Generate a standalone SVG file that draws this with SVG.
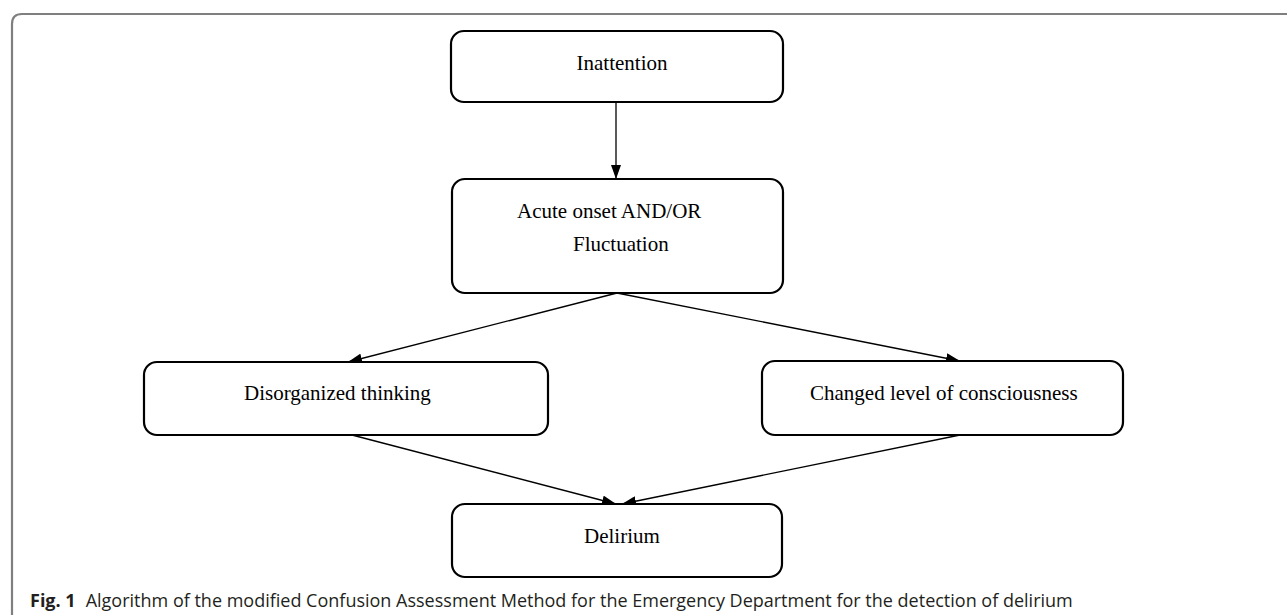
<svg xmlns="http://www.w3.org/2000/svg" width="1287" height="615" viewBox="0 0 1287 615">
<defs>
<marker id="ah" viewBox="0 0 14 10" refX="14" refY="5" markerWidth="14" markerHeight="10" markerUnits="userSpaceOnUse" orient="auto">
<path d="M0,0 L14,5 L0,10 Z" fill="#000"/>
</marker>
<style>
.box{fill:#fff;stroke:#000;stroke-width:2.2}
.lbl{font-family:"Liberation Serif","Times New Roman",serif;font-size:21px;fill:#000}
.con{stroke:#000;stroke-width:1.3;fill:none;marker-end:url(#ah)}
.cap{font-family:"Open Sans","Noto Sans",sans-serif;font-size:18px;fill:#231f20}
</style>
</defs>
<rect width="1287" height="615" fill="#fff"/>
<path d="M12,615 V24 Q12,14 22,14 H1287" fill="none" stroke="#7f7f7f" stroke-width="2.2"/>
<g id="connectors">
<line class="con" x1="616" y1="102" x2="616" y2="179"/>
<line class="con" x1="617" y1="293" x2="348" y2="362"/>
<line class="con" x1="617" y1="293" x2="960" y2="361"/>
<line class="con" x1="352" y1="435" x2="616" y2="504"/>
<line class="con" x1="960" y1="435" x2="622" y2="504"/>
</g>
<g id="inattention">
<rect class="box" x="451" y="31" width="332" height="71" rx="13"/>
<text class="lbl" x="622" y="70" text-anchor="middle">Inattention</text>
</g>
<g id="acute">
<rect class="box" x="452" y="179" width="331" height="114" rx="13"/>
<text class="lbl" x="517" y="218">Acute onset AND/OR</text>
<text class="lbl" x="573" y="251">Fluctuation</text>
</g>
<g id="disorganized">
<rect class="box" x="144" y="362" width="404" height="73" rx="13"/>
<text class="lbl" x="244" y="400">Disorganized thinking</text>
</g>
<g id="changed">
<rect class="box" x="762" y="361" width="361" height="74" rx="13"/>
<text class="lbl" x="810" y="400">Changed level of consciousness</text>
</g>
<g id="delirium">
<rect class="box" x="452" y="504" width="330" height="73" rx="13"/>
<text class="lbl" x="584" y="543">Delirium</text>
</g>
<text class="cap" x="30" y="607"><tspan font-weight="bold">Fig. 1</tspan><tspan dx="10">Algorithm of the modified Confusion Assessment Method for the Emergency Department for the detection of delirium</tspan></text>
</svg>
